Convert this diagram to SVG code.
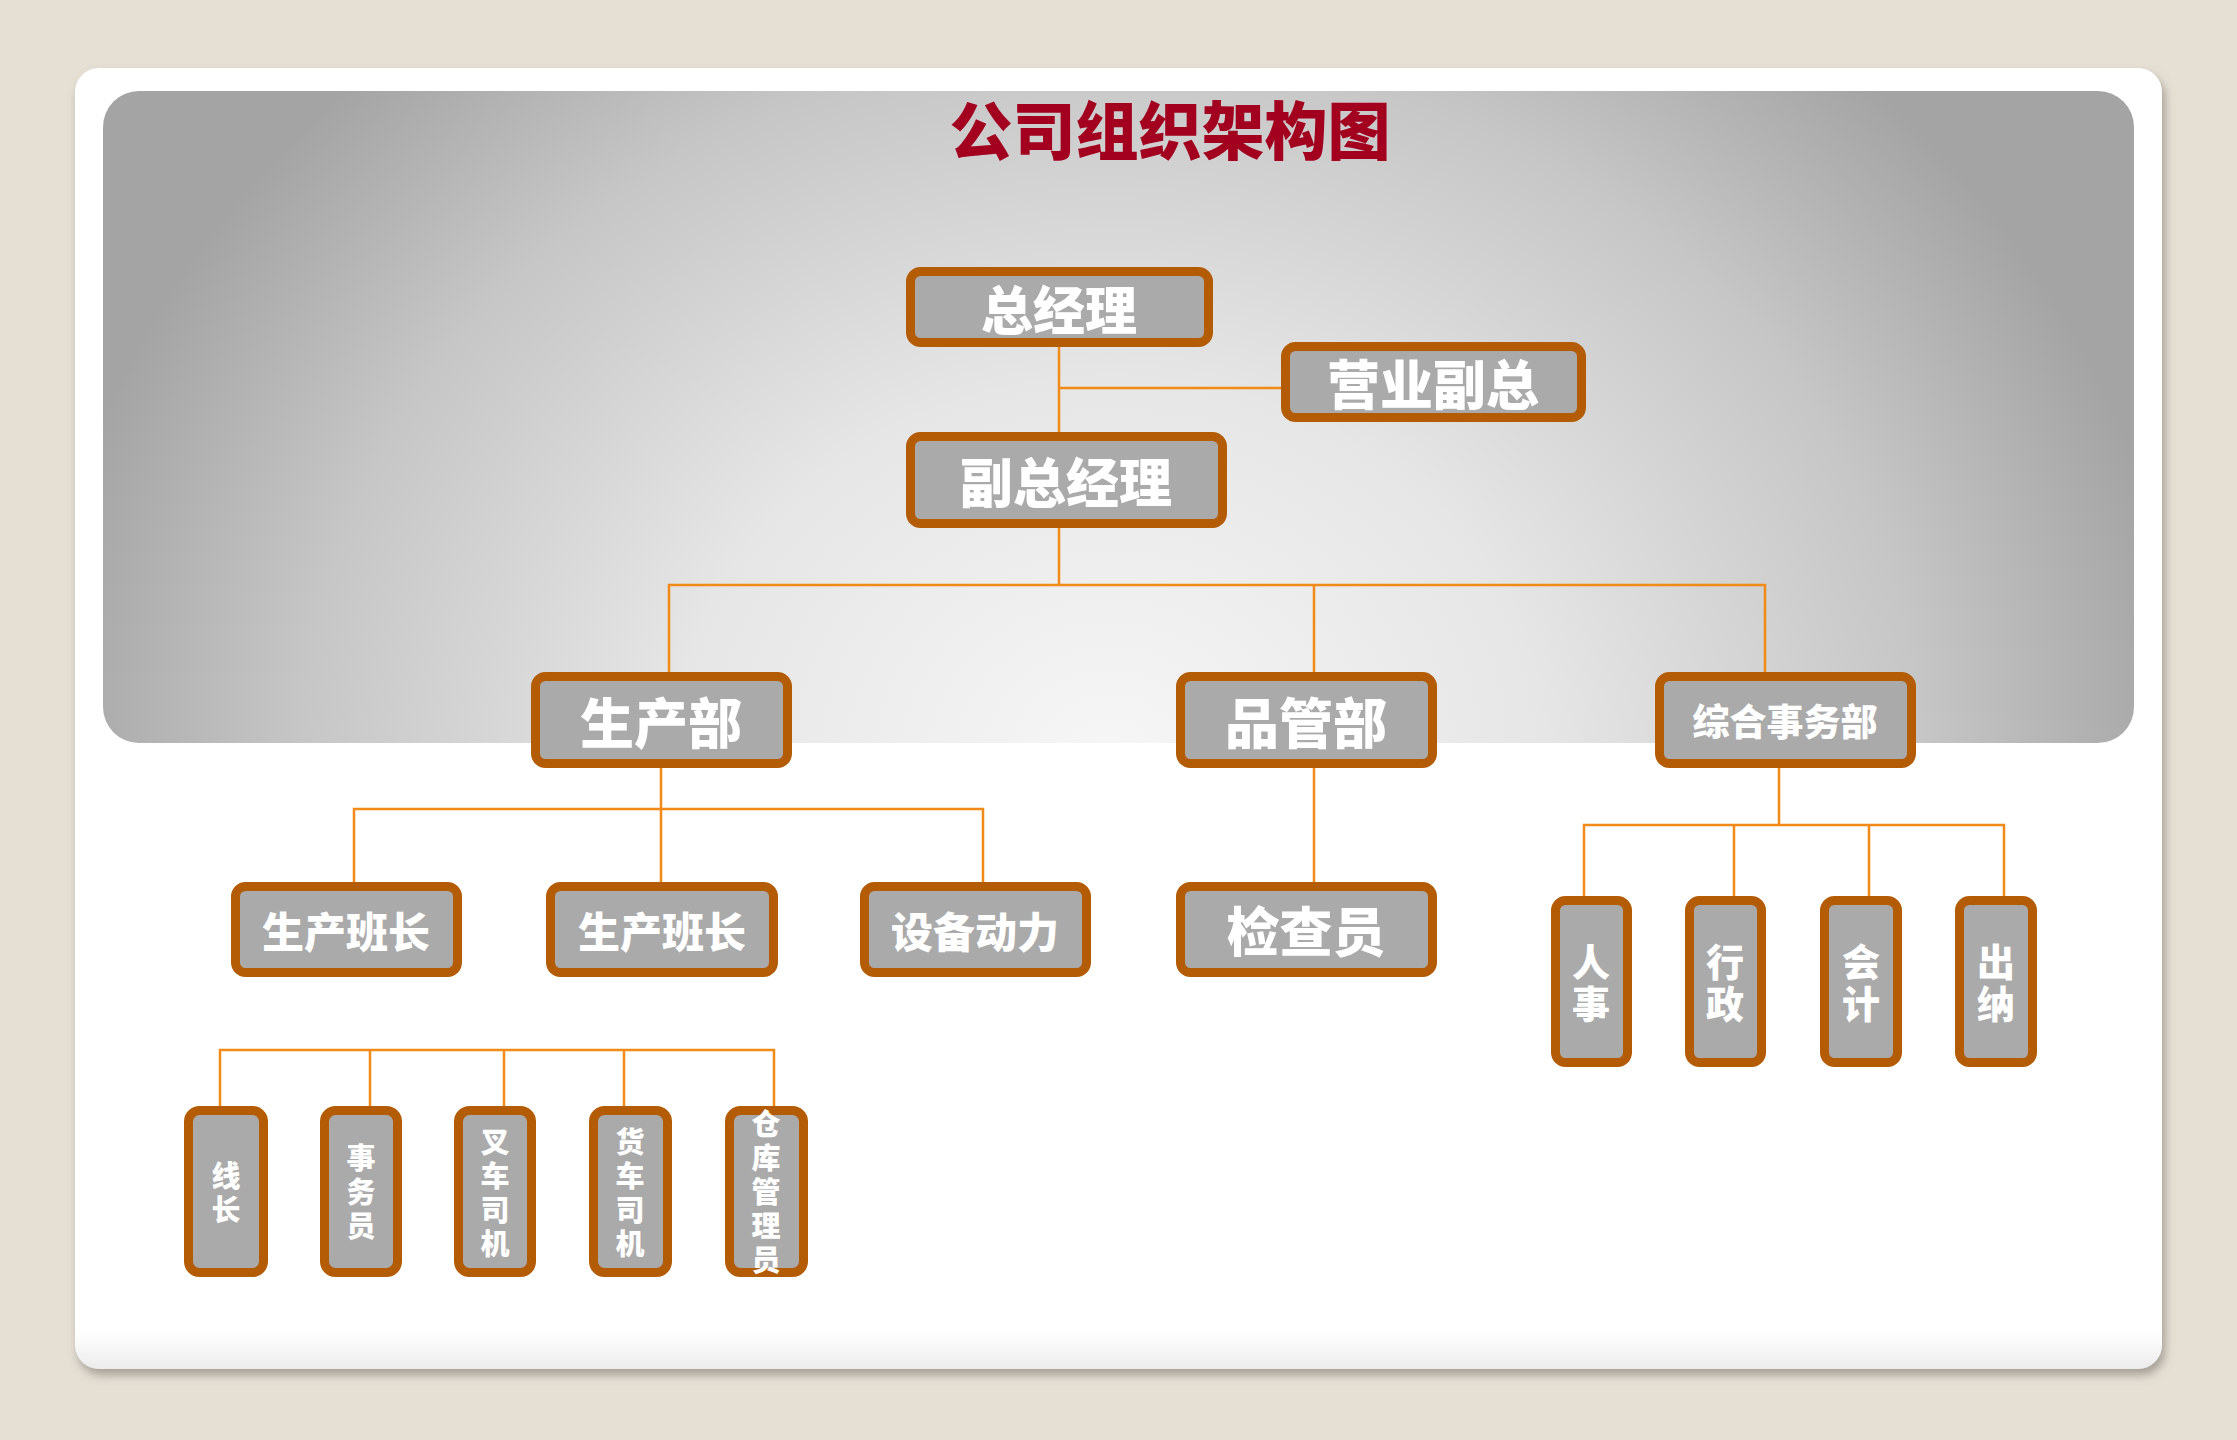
<svg xmlns="http://www.w3.org/2000/svg" width="2237" height="1440" viewBox="0 0 2237 1440">
<defs>
<style>
.box{fill:#aaaaaa;stroke:#b35c05;stroke-width:9}
.t{fill:#ffffff;font-family:"Noto Sans CJK SC","Noto Sans",sans-serif;font-weight:900;text-anchor:middle;dominant-baseline:central}
.v{writing-mode:vertical-rl;text-orientation:upright}
.v1{font-size:38px;letter-spacing:4px}
.v2{font-size:29px;letter-spacing:5px}
.ln{stroke:#f28a1a;stroke-width:2.5;fill:none}
</style>
<radialGradient id="pg" gradientUnits="userSpaceOnUse" cx="1110" cy="760" r="1080" gradientTransform="translate(1110 760) scale(1 0.88) translate(-1110 -760)">
<stop offset="0" stop-color="#f6f6f6"/>
<stop offset="0.4" stop-color="#e6e6e6"/>
<stop offset="0.75" stop-color="#c6c6c6"/>
<stop offset="1" stop-color="#a4a4a4"/>
</radialGradient>
<linearGradient id="cardg" x1="0" y1="0" x2="0" y2="1">
<stop offset="0.97" stop-color="#ffffff"/>
<stop offset="1" stop-color="#ececec"/>
</linearGradient>
<filter id="sh" x="-5%" y="-5%" width="110%" height="112%">
<feDropShadow dx="3" dy="6" stdDeviation="5" flood-color="#7a756c" flood-opacity="0.6"/>
</filter>
</defs>
<rect width="2237" height="1440" fill="#e5dfd4"/>
<rect id="card" x="75" y="68" width="2087" height="1301" rx="24" fill="url(#cardg)" filter="url(#sh)"/>
<rect id="panel" x="103" y="91" width="2031" height="652" rx="36" fill="url(#pg)"/>
<text id="title" x="1170" y="126" font-family="Noto Sans CJK SC, sans-serif" font-weight="900" font-size="63" fill="#a3001f" text-anchor="middle" dominant-baseline="central">公司组织架构图</text>

<g id="connectors" class="ln">
<path d="M1059 347 V432 M1059 388 H1281"/>
<path d="M1059 528 V585 M669 672 V585 H1765 V672 M1314 585 V672"/>
<path d="M661 768 V809 M354 882 V809 H983 V882 M661 809 V882"/>
<path d="M1314 768 V882"/>
<path d="M1779 768 V825 M1584 896 V825 H2004 V896 M1734 825 V896 M1869 825 V896"/>
<path d="M220 1106 V1050 H774 V1106 M370 1050 V1106 M504 1050 V1106 M624 1050 V1106"/>
</g>

<g id="n-zjl"><rect class="box" x="910.5" y="271.5" width="298" height="71" rx="10"/><text class="t" x="1059" y="307" font-size="52">总经理</text></g>
<g id="n-yyfz"><rect class="box" x="1285.5" y="346.5" width="296" height="71" rx="10"/><text class="t" x="1433" y="382" font-size="53">营业副总</text></g>
<g id="n-fzjl"><rect class="box" x="910.5" y="436.5" width="312" height="87" rx="10"/><text class="t" x="1066" y="480" font-size="53">副总经理</text></g>
<g id="n-scb"><rect class="box" x="535.5" y="676.5" width="252" height="87" rx="10"/><text class="t" x="661" y="720" font-size="54">生产部</text></g>
<g id="n-pgb"><rect class="box" x="1180.5" y="676.5" width="252" height="87" rx="10"/><text class="t" x="1306" y="720" font-size="54">品管部</text></g>
<g id="n-zhswb"><rect class="box" x="1659.5" y="676.5" width="252" height="87" rx="10"/><text class="t" x="1785" y="720" font-size="37">综合事务部</text></g>
<g id="n-scbz1"><rect class="box" x="235.5" y="886.5" width="222" height="86" rx="10"/><text class="t" x="346" y="929" font-size="42">生产班长</text></g>
<g id="n-scbz2"><rect class="box" x="550.5" y="886.5" width="223" height="86" rx="10"/><text class="t" x="662" y="929" font-size="42">生产班长</text></g>
<g id="n-sbdl"><rect class="box" x="864.5" y="886.5" width="222" height="86" rx="10"/><text class="t" x="975" y="929" font-size="42">设备动力</text></g>
<g id="n-jcy"><rect class="box" x="1180.5" y="886.5" width="252" height="86" rx="10"/><text class="t" x="1306" y="929" font-size="53">检查员</text></g>

<g id="n-rs"><rect class="box" x="1555.5" y="900.5" width="72" height="162" rx="10"/><text class="t v v1" x="1591" y="985">人事</text></g>
<g id="n-xz"><rect class="box" x="1689.5" y="900.5" width="72" height="162" rx="10"/><text class="t v v1" x="1725" y="985">行政</text></g>
<g id="n-kj"><rect class="box" x="1824.5" y="900.5" width="73" height="162" rx="10"/><text class="t v v1" x="1861" y="985">会计</text></g>
<g id="n-cn"><rect class="box" x="1959.5" y="900.5" width="73" height="162" rx="10"/><text class="t v v1" x="1996" y="985">出纳</text></g>

<g id="n-xzhang"><rect class="box" x="188.5" y="1110.5" width="75" height="162" rx="11"/><text class="t v v2" x="226" y="1195">线长</text></g>
<g id="n-swy"><rect class="box" x="324.5" y="1110.5" width="73" height="162" rx="11"/><text class="t v v2" x="361" y="1194">事务员</text></g>
<g id="n-ccsj"><rect class="box" x="458.5" y="1110.5" width="73" height="162" rx="11"/><text class="t v v2" x="495" y="1195">叉车司机</text></g>
<g id="n-hcsj"><rect class="box" x="593.5" y="1110.5" width="74" height="162" rx="11"/><text class="t v v2" x="630" y="1195">货车司机</text></g>
<g id="n-ckgly"><rect class="box" x="729.5" y="1110.5" width="74" height="162" rx="11"/><text class="t v v2" x="766" y="1194">仓库管理员</text></g>
</svg>
